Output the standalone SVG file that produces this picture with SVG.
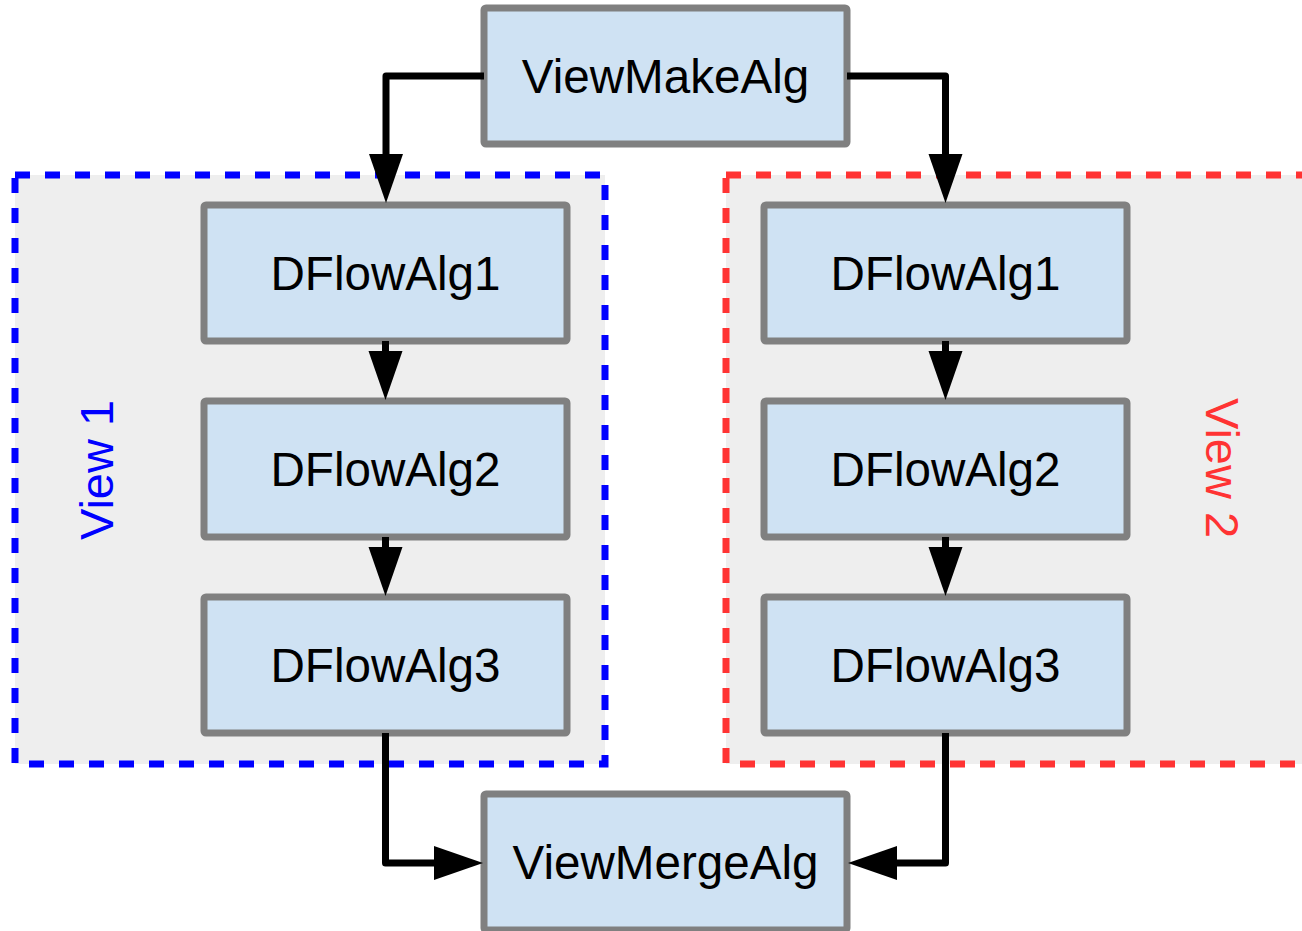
<svg xmlns="http://www.w3.org/2000/svg" width="1302" height="931" viewBox="0 0 1302 931">
<style>
.grp{fill:#eeeeee;stroke-width:7;stroke-dasharray:15 15}
.box{fill:#cfe2f3;stroke:#808080;stroke-width:7}
.lbl{font-family:"Liberation Sans",Arial,sans-serif;font-size:47.6px;fill:#000;text-anchor:middle}
.vl{font-family:"Liberation Sans",Arial,sans-serif;font-size:47px;text-anchor:middle}
.con{fill:none;stroke:#000;stroke-width:7;stroke-linejoin:round;marker-end:url(#ah)}
</style>
<defs>
<marker id="ah" markerUnits="userSpaceOnUse" markerWidth="50" markerHeight="34" viewBox="0 0 50 34" refX="0" refY="17" orient="auto" overflow="visible">
<path d="M0,0 L49,17 L0,34 Z" fill="#000"/>
</marker>
</defs>
<rect width="1302" height="931" fill="#fff"/>
<g id="view1">
<rect class="grp" x="15" y="175" width="590" height="589" stroke="#0000ff"/>
<text class="vl" fill="#0000ff" transform="translate(113,470) rotate(-90)">View 1</text>
</g>
<g id="view2">
<rect class="grp" x="726" y="175" width="590" height="589" stroke="#ff3333"/>
<text class="vl" fill="#ff3333" transform="translate(1206,468) rotate(90)">View 2</text>
</g>
<g id="viewmake"><rect class="box" x="484" y="8" width="363" height="136" rx="2"/><text class="lbl" x="665.5" y="93">ViewMakeAlg</text></g>
<g id="l1"><rect class="box" x="204" y="205" width="363" height="136" rx="2"/><text class="lbl" x="385.5" y="290">DFlowAlg1</text></g>
<g id="l2"><rect class="box" x="204" y="401" width="363" height="136" rx="2"/><text class="lbl" x="385.5" y="486">DFlowAlg2</text></g>
<g id="l3"><rect class="box" x="204" y="597" width="363" height="136" rx="2"/><text class="lbl" x="385.5" y="682">DFlowAlg3</text></g>
<g id="r1"><rect class="box" x="764" y="205" width="363" height="136" rx="2"/><text class="lbl" x="945.5" y="290">DFlowAlg1</text></g>
<g id="r2"><rect class="box" x="764" y="401" width="363" height="136" rx="2"/><text class="lbl" x="945.5" y="486">DFlowAlg2</text></g>
<g id="r3"><rect class="box" x="764" y="597" width="363" height="136" rx="2"/><text class="lbl" x="945.5" y="682">DFlowAlg3</text></g>
<g id="viewmerge"><rect class="box" x="484" y="794" width="363" height="136" rx="2"/><text class="lbl" x="665.5" y="879">ViewMergeAlg</text></g>
<g id="connectors">
<path class="con" d="M484,76 H386 V154"/>
<path class="con" d="M847,76 H945.5 V154"/>
<path class="con" d="M385.5,341 V351"/>
<path class="con" d="M385.5,537 V547"/>
<path class="con" d="M945.5,341 V351"/>
<path class="con" d="M945.5,537 V547"/>
<path class="con" d="M385.5,733 V863 H434"/>
<path class="con" d="M945.5,733 V863 H897"/>
</g>
</svg>
